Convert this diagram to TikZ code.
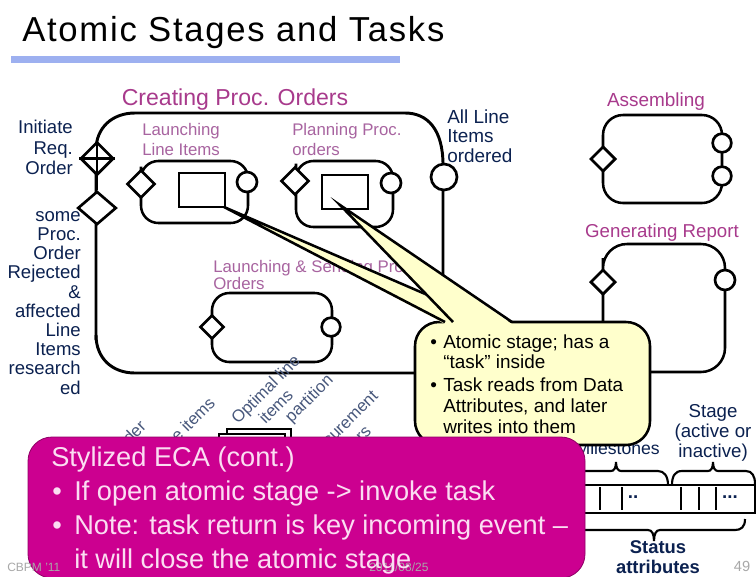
\documentclass[tikz,border=0pt]{standalone}
\usepackage{fontspec}
\setmainfont{Liberation Sans}
\usetikzlibrary{shapes.geometric}
\definecolor{navy}{HTML}{0B2150}
\definecolor{plum}{HTML}{A83A8C}
\definecolor{lplum}{HTML}{A864A0}
\definecolor{calloutfill}{HTML}{FFFFCC}
\definecolor{mag}{HTML}{CC0090}
\definecolor{pinktext}{HTML}{FBDDF2}
\definecolor{barblue}{HTML}{9DB0F0}
\definecolor{footgray}{HTML}{A8A8A8}
\newcommand{\fs}[1]{\fontsize{#1}{#1}\selectfont}
\tikzset{
  x=.75pt,y=-.75pt,
  thickline/.style={line width=2.2pt,black},
  midline/.style={line width=1.9pt,black},
  lbl/.style={inner sep=0pt,anchor=west},
  dia/.style={diamond,draw=black,fill=white,line width=2pt,inner sep=0pt,minimum width=#1,minimum height=#1},
  circ/.style={circle,draw=black,fill=white,line width=2pt,inner sep=0pt,minimum size=#1},
  tag/.style={inner sep=0pt,font=\fs{12.6},text=lplum,align=left,anchor=west},
  rotlbl/.style={inner sep=0pt,rotate=45,anchor=east,font=\fs{12.6},text=navy!75},
  foot/.style={inner sep=0pt,font=\fs{9},text=footgray},
  magline/.style={inner sep=0pt,anchor=base west,font=\fs{20.4},text=pinktext},
}
\begin{document}
\begin{tikzpicture}
\useasboundingbox (0,0) rectangle (756,576);
\fill[white] (0,0) rectangle (756,576);
% title
\node[lbl] (title) at (22,33) {\fs{26}\addfontfeature{LetterSpace=5}Atomic Stages and Tasks};
\fill[barblue] (11,56) rectangle (400,63);
% big stage
\node[inner sep=0pt,font=\fs{17.3},text=plum] (tcreate) at (235,100) {Creating Proc. Orders};
\draw[thickline] (96,340) -- (96,150) .. controls (96,128) and (112,113) .. (135,113) -- (405,113)
  .. controls (428,113) and (443,130) .. (443,165) -- (443,290);
\draw[thickline] (96,335) .. controls (96,358) and (112,373) .. (135,373) -- (416,373);
\node[dia=25pt] (dinit) at (97,158.5) {};
\draw[midline] (dinit.north) -- (dinit.south) (dinit.west) -- (dinit.east);
\node[dia=25pt,minimum width=29pt] (dsome) at (97,208) {};
\draw[thickline] (dinit.south) -- (dsome.north);
\node[circ=19.5pt] (cline) at (444,177) {};
% left labels
\node[inner sep=0pt,anchor=north east,align=right,font=\fs{13.9},text=navy] (linit) at (73,120)
  {Initiate\\[1.5pt]Req.\\[1.5pt]Order};
\node[inner sep=0pt,anchor=north east,align=right,font=\fs{13.9},text=navy] (lsome) at (81,211)
  {some\\[.5pt]Proc.\hspace{-2.5pt}\\[.5pt]Order\\[.5pt]Rejected\\[.5pt]\&\\[.5pt]affected\\[.5pt]Line\\[.5pt]Items\\[.5pt]research\\[.5pt]ed};
\node[lbl,font=\fs{14.2},text=navy,align=left] (lall) at (447,136) {All Line\\[.5pt]Items\\[.5pt]ordered};
% Launching line items
\node[tag] (t1) at (142,139.5) {Launching\\[1.8pt]Line Items};
\draw[midline,rounded corners=13] (141,184) -- (141,161) -- (248,161) -- (248,223) -- (141,223) -- cycle;
\node[dia=21pt] (d1) at (141,184) {};
\node[circ=15pt] (c1) at (247,182) {};
\draw[midline,fill=white] (179,173) rectangle (225,207);
% planning
\node[tag] (t2) at (292,139.5) {Planning Proc.\\[1.8pt]orders};
\draw[midline,rounded corners=13] (296,181) -- (296,161) -- (393,161) -- (393,227) -- (296,227) -- cycle;
\node[dia=21pt] (d2) at (295,181) {};
\node[circ=15pt] (c2) at (391,183) {};
\draw[midline,fill=white] (322,175) rectangle (368,209);
% launching and sending
\node[tag] (t3) at (213,275) {Launching \& Sending Proc.\\[.8pt]Orders};
\draw[midline,rounded corners=13] (212,327) -- (212,293) -- (332,293) -- (332,362) -- (212,362) -- cycle;
\node[dia=18pt] (d3) at (212,327) {};
\node[circ=14pt] (c3) at (331,327) {};
% assembling
\node[inner sep=0pt,font=\fs{14.2},text=plum] (t4) at (656,102) {Assembling};
\draw[midline,rounded corners=15] (603,159) -- (603,115) -- (722,115) -- (722,203) -- (603,203) -- cycle;
\node[dia=19pt] (d4) at (603,159) {};
\node[circ=14pt] (c4a) at (722,143) {};
\node[circ=14pt] (c4b) at (722,176) {};
% generating
\node[inner sep=0pt,font=\fs{14},text=plum] (t5) at (662,233) {Generating Report};
\draw[midline,rounded corners=18] (603,282) -- (603,244) -- (725,244) -- (725,372) -- (603,372) -- cycle;
\node[dia=19pt] (d5) at (603,282) {};
\node[circ=15pt] (c5) at (725,280) {};
% rotated labels
\node[rotlbl] (r1) at (298,359) {Optimal line};
\node[rotlbl] (r2) at (290,392) {items};
\node[rotlbl] (r3) at (331,378) {partition};
\node[rotlbl] (r4) at (212,400) {Line items};
\node[rotlbl] (r5) at (143,423) {Order};
\node[rotlbl] (r6) at (375,393) {Procurement};
\node[rotlbl] (r7) at (368,428) {orders};
% small stacked rectangles
\draw[midline,fill=white] (227,429) rectangle (291,470);
\draw[midline,fill=white] (219,434) rectangle (285,470);
% status table
\draw[midline,fill=white] (560,485) rectangle (755,513);
\foreach \xx in {600,622,681,699,716}{\draw[midline] (\xx,487) -- (\xx,510);}
\node[inner sep=0pt,font=\bfseries\fs{14},text=navy] (dots1) at (633,497) {..};
\node[inner sep=0pt,font=\bfseries\fs{14},text=navy] (dots2) at (730,497) {...};
% labels and braces
\node[inner sep=0pt,anchor=east,font=\fs{13.2},text=navy] (lmile) at (660,448) {Milestones};
\node[inner sep=0pt,font=\fs{14},text=navy,align=center] (lstage) at (713,433) {Stage\\[1.2pt](active or\\[1.2pt]inactive)};
\node[inner sep=0pt,font=\bfseries\fs{13.8},text=navy,align=center] (lstatus) at (658,557) {Status\\[1pt]attributes};
\draw[midline,line width=1.6pt] (560,471) -- (611,471) .. controls (614,471) and (616,468) .. (616,462)
  .. controls (616,468) and (618,471) .. (621,471) -- (658,471) .. controls (664,471) and (668,476) .. (668,485);
\draw[midline,line width=1.6pt] (672,485) .. controls (672,476) and (675,471) .. (682,471) -- (708,471)
  .. controls (711,471) and (713,468) .. (713,462) .. controls (713,468) and (715,471) .. (718,471) -- (746,471)
  .. controls (752,471) and (755,476) .. (755,484);
\draw[midline,line width=1.6pt] (560,530) -- (648,530) .. controls (652,530) and (654,534) .. (654,541)
  .. controls (654,534) and (656,530) .. (660,530) -- (735,530) .. controls (741,530) and (745,527) .. (745,519);
\node[inner sep=0pt,font=\fs{11},text=footgray] (pnum) at (742,566) {49};
% yellow callout
\draw[midline,fill=calloutfill,rounded corners=18] (415,322) rectangle (650,445);
\coordinate (tipa) at (224,207);
\coordinate (tipb) at (340,205);
\fill[calloutfill] (tipa) -- (490,324) -- (445,324) -- cycle;
\draw[midline] (445,322) -- (tipa) -- (490,322);
\fill[calloutfill] (tipb) -- (512,324) -- (453,324) -- cycle;
\draw[midline] (453,322) -- (tipb) -- (512,322);
\node[lbl,anchor=base west,font=\fs{14.2}] (b1) at (430,348) {•};
\node[lbl,anchor=base west,font=\fs{14.2}] (a1) at (443,348) {Atomic stage; has a};
\node[lbl,anchor=base west,font=\fs{14.2}] (a2) at (443,368) {“task” inside};
\node[lbl,anchor=base west,font=\fs{14.2}] (b2) at (430,391) {•};
\node[lbl,anchor=base west,font=\fs{14.2}] (a3) at (443,391) {Task reads from Data};
\node[lbl,anchor=base west,font=\fs{14.2}] (a4) at (443,412) {Attributes, and later};
\node[lbl,anchor=base west,font=\fs{14.2}] (a5) at (443,433) {writes into them};
% magenta panel
\draw[line width=.6pt,draw=mag!70!black,fill=mag,rounded corners=18] (28,437) rectangle (585,578);
\node[foot,anchor=west] (fcb) at (7,567) {CBPM '11};
\node[foot,anchor=west] (fdate) at (369,567) {2011/08/25};
\node[magline] (m0) at (51,466) {Stylized ECA (cont.)};
\node[magline] (mb1) at (52,500) {•};
\node[magline] (m1) at (74,500) {If open atomic stage -> invoke task};
\node[magline] (mb2) at (52,534) {•};
\node[magline] (m2) at (74,534) {Note: task return is key incoming event –};
\node[magline] (m3) at (74,568) {it will close the atomic stage};
\end{tikzpicture}
\end{document}
